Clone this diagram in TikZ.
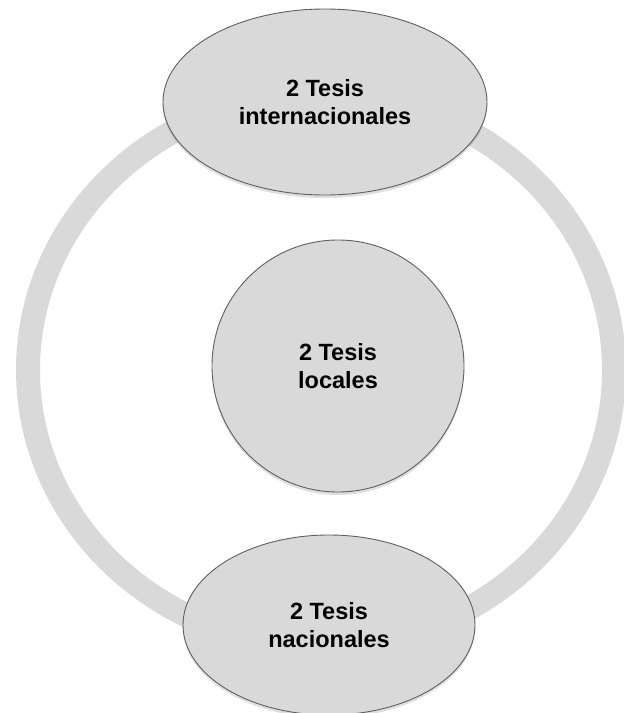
\documentclass[tikz,border=0pt]{standalone}
\usepackage{fontspec}
\setmainfont{Liberation Sans}
\usetikzlibrary{shapes.geometric,shadows}
\definecolor{ringgray}{RGB}{217,217,217}
\definecolor{edgegray}{RGB}{95,95,95}
\tikzset{
  tesis/.style={draw=edgegray,fill=ringgray,line width=0.9pt,inner sep=0pt,
    align=center,font=\bfseries\fontsize{23.5}{27.5}\selectfont,
    drop shadow={opacity=0.25,shadow xshift=0pt,shadow yshift=-3pt}},
  ring/.style={draw=ringgray,line width=24pt}
}
\begin{document}
\begin{tikzpicture}[x=1pt,y=-1pt]
	\useasboundingbox (0,0) rectangle (624,713);
	\draw[ring] (321,370) ellipse [x radius=293pt, y radius=276pt];
	\node[tesis,circle,minimum size=252pt] (loc) at (338,366) {2 Tesis\\locales};
	\node[tesis,ellipse,minimum width=324pt,minimum height=186pt] (int) at (325,102) {2 Tesis\\internacionales};
	\node[tesis,ellipse,minimum width=292pt,minimum height=180pt] (nac) at (329,625) {2 Tesis\\nacionales};
\end{tikzpicture}
\end{document}
